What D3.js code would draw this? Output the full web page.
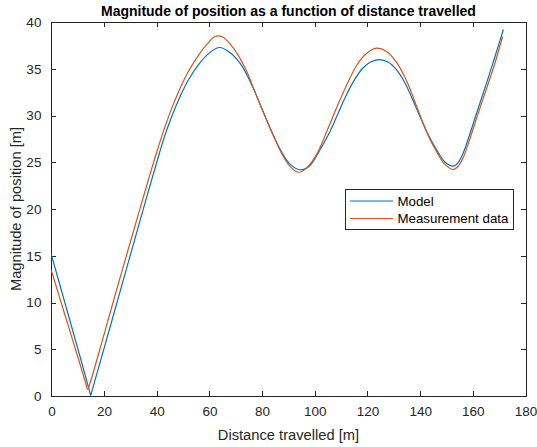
<!DOCTYPE html>
<html>
<head>
<meta charset="utf-8">
<script src="https://cdn.jsdelivr.net/npm/d3@7"></script>
<style>
  body { margin: 0; background: #fff; }
  svg { font-family: "Liberation Sans", Arial, Helvetica, sans-serif; }
</style>
</head>
<body>
<script>
// values
var modelDist = [0, 5, 10, 14.5, 14.9, 15.3, 20, 25, 30, 35, 40, 43, 46, 49, 52, 56, 60, 63.8, 67.5, 71.6, 75, 77.9, 80.7, 83.6, 87, 90.6, 94.4, 98, 101.5, 105.8, 108.8, 111.5, 114.6, 118, 121, 124.4, 128, 131, 134.2, 137, 139.3, 143, 146.3, 149.5, 152.6, 154.5, 156.5, 158.5, 161.5, 164.9, 168.3, 171.6]
var modelMag  = [15.1, 10.1, 5.1, 0.5, 0.05, 0.45, 5.1, 10.1, 15.1, 20.1, 25.0, 27.8, 30.1, 32.1, 33.8, 35.5, 36.7, 37.27, 36.8, 35.6, 33.9, 32.1, 30.2, 28.3, 26.3, 24.8, 24.2, 24.6, 26.1, 28.3, 30.2, 31.9, 33.6, 35.0, 35.7, 35.98, 35.7, 34.9, 33.5, 31.8, 30.3, 28.0, 26.3, 25.0, 24.58, 25.0, 26.1, 27.7, 30.3, 33.2, 36.2, 39.2]

var measDist = [0, 5, 10, 13.0, 13.8, 14.6, 20, 25, 30, 36.8, 40, 43, 46, 49, 52, 55.5, 59, 62.1, 65, 68, 71, 74, 77.9, 81, 84.2, 87.5, 90.5, 93.7, 97, 101, 105, 109, 112.5, 116, 119.5, 123.4, 127, 131, 135, 139.3, 143, 146.1, 149, 152.4, 154.5, 156.5, 159, 162, 165.6, 168.5, 171.3]
var measMag  = [13.4, 8.8, 4.2, 1.4, 0.7, 1.3, 6.6, 11.6, 16.5, 23.1, 26.1, 28.7, 31.0, 33.0, 34.7, 36.3, 37.6, 38.45, 38.4, 37.6, 36.4, 34.8, 32.1, 30.0, 27.9, 25.9, 24.6, 23.93, 24.4, 26.0, 28.6, 31.3, 33.5, 35.4, 36.6, 37.2, 36.9, 35.7, 33.6, 30.5, 27.9, 26.2, 24.9, 24.22, 24.6, 25.6, 27.6, 30.2, 33.2, 35.7, 38.45]

var seriesNames = ["Model", "Measurement data"]
var seriesColors = ["#0072bd", "#d95319"]
var xTicks = [0, 20, 40, 60, 80, 100, 120, 140, 160, 180]
var yTicks = [0, 5, 10, 15, 20, 25, 30, 35, 40]

var svgWidth = 537
var svgHeight = 447
var axisColor = "#262626"

var svg = d3.select("body").append("svg")
    .attr("width", svgWidth)
    .attr("height", svgHeight)

var x = d3.scaleLinear().domain([0, 180]).range([51.4, 525.5])
var y = d3.scaleLinear().domain([0, 40]).range([396, 22])

// axes, MATLAB style: ticks inside, box on
var xAxis = d3.axisBottom(x).tickValues(xTicks).tickSizeInner(-5).tickSizeOuter(0).tickPadding(10)
var yAxis = d3.axisLeft(y).tickValues(yTicks).tickSizeInner(-5).tickSizeOuter(0).tickPadding(10)
var xTop = d3.axisTop(x).tickValues(xTicks).tickSizeInner(-5).tickSizeOuter(0).tickFormat("")
var yRight = d3.axisRight(y).tickValues(yTicks).tickSizeInner(-5).tickSizeOuter(0).tickFormat("")

svg.append("g").attr("class", "axis")
    .attr("transform", "translate(0," + y(0) + ")").call(xAxis)
svg.append("g").attr("class", "axis")
    .attr("transform", "translate(" + x(0) + ",0)").call(yAxis)
svg.append("g").attr("class", "axis")
    .attr("transform", "translate(0," + y(40) + ")").call(xTop)
svg.append("g").attr("class", "axis")
    .attr("transform", "translate(" + x(180) + ",0)").call(yRight)

svg.selectAll(".axis path, .axis line")
    .attr("stroke", axisColor)
    .attr("stroke-width", 1)
    .attr("shape-rendering", "crispEdges")
svg.selectAll(".axis text")
    .attr("fill", axisColor)
    .style("font-size", "13.5px")
    .style("font-family", "'Liberation Sans', Arial, sans-serif")

// lines
var line = d3.line()
    .x(d => x(d[0]))
    .y(d => y(d[1]))
    .curve(d3.curveCatmullRom.alpha(0.5))

var model = modelDist.map((d, i) => [d, modelMag[i]])
var meas = measDist.map((d, i) => [d, measMag[i]])

svg.append("path").datum(model)
    .attr("fill", "none")
    .attr("stroke", seriesColors[0])
    .attr("stroke-width", 1.2)
    .attr("d", line)

svg.append("path").datum(meas)
    .attr("fill", "none")
    .attr("stroke", seriesColors[1])
    .attr("stroke-width", 1.2)
    .attr("d", line)

// title and labels
svg.append("text")
    .attr("x", (x(0) + x(180)) / 2)
    .attr("y", 16)
    .attr("text-anchor", "middle")
    .style("font-size", "14px")
    .style("font-weight", "bold")
    .attr("fill", "#000")
    .text("Magnitude of position as a function of distance travelled")

svg.append("text")
    .attr("x", (x(0) + x(180)) / 2)
    .attr("y", 440)
    .attr("text-anchor", "middle")
    .style("font-size", "14.7px")
    .attr("fill", axisColor)
    .text("Distance travelled [m]")

svg.append("text")
    .attr("transform", "translate(21," + (y(0) + y(40)) / 2 + ") rotate(-90)")
    .attr("text-anchor", "middle")
    .style("font-size", "14.7px")
    .attr("fill", axisColor)
    .text("Magnitude of position [m]")

// legend
var legend = svg.append("g").attr("transform", "translate(345,189.5)")
legend.append("rect")
    .attr("width", 168)
    .attr("height", 40)
    .attr("fill", "#fff")
    .attr("stroke", axisColor)
    .attr("stroke-width", 1)
    .attr("shape-rendering", "crispEdges")

seriesNames.forEach((name, i) => {
    var ly = 11.5 + i * 17.5
    legend.append("line")
        .attr("x1", 5).attr("x2", 48)
        .attr("y1", ly).attr("y2", ly)
        .attr("stroke", seriesColors[i])
        .attr("stroke-width", 1.2)
    legend.append("text")
        .attr("x", 52.5)
        .attr("y", ly)
        .attr("dy", "0.35em")
        .style("font-size", "13.3px")
        .attr("fill", "#000")
        .text(name)
})
</script>
</body>
</html>
